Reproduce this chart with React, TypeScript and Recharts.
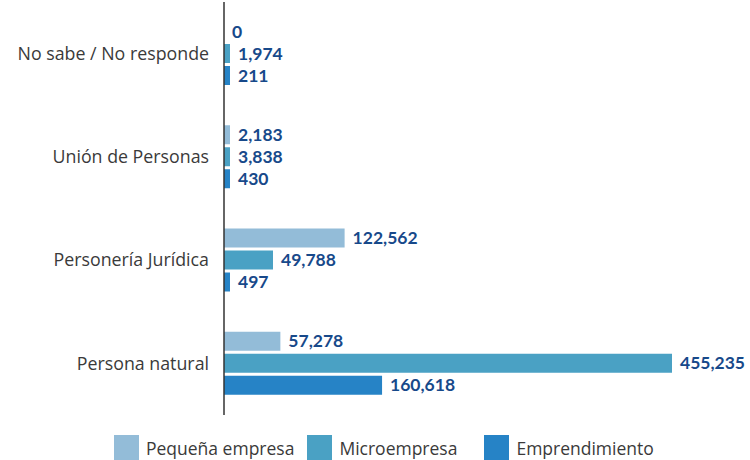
import React from 'react';
import { BarChart, Bar, XAxis, YAxis, LabelList } from 'recharts';

const categories = ['No sabe / No responde', 'Unión de Personas', 'Personería Jurídica', 'Persona natural'];
const pequena = [0, 2183, 122562, 57278];
const micro = [1974, 3838, 49788, 455235];
const emprendimiento = [211, 430, 497, 160618];

const series = [
  { key: 'pequena', name: 'Pequeña empresa', color: '#93bcd8' },
  { key: 'micro', name: 'Microempresa', color: '#4aa1c4' },
  { key: 'emprendimiento', name: 'Emprendimiento', color: '#2683c6' },
];

const data = categories.map((name, i) => ({
  name,
  pequena: pequena[i],
  micro: micro[i],
  emprendimiento: emprendimiento[i],
}));

const TEXT_FONT = '"Open Sans", sans-serif';
const NUM_FONT = 'Lato, "Open Sans", sans-serif';
const fmt = (v: number) => v.toLocaleString('en-US');

// tiny bars get a visible stub like in the original; zero keeps a hairline so its label still shows
const minSize = (v: any) => (Number(v) === 0 ? 0.01 : 6);

export default function App() {
  return (
    <div style={{ position: 'absolute', left: 0, top: 0, width: 750, height: 460, background: '#fff' }}>
      <BarChart
        width={750}
        height={460}
        data={data}
        layout="vertical"
        margin={{ top: 2, right: 78, bottom: 45, left: 0 }}
        barSize={19}
        barGap={3}
      >
        <XAxis type="number" hide domain={[0, 455235]} />
        <YAxis
          type="category"
          dataKey="name"
          width={224}
          tickSize={0}
          tickMargin={15}
          axisLine={{ stroke: '#333', strokeWidth: 1.5 }}
          tick={{ fill: '#3a3a3a', fontSize: 17.8, fontFamily: TEXT_FONT }}
        />
        {series.map((s) => (
          <Bar
            key={s.key}
            dataKey={s.key}
            name={s.name}
            fill={s.color}
            minPointSize={minSize}
            isAnimationActive={false}
          >
            <LabelList
              dataKey={s.key}
              position="right"
              offset={8}
              formatter={(v: any) => fmt(Number(v))}
              style={{ fill: '#17498a', fontSize: 17.5, fontWeight: 700, fontFamily: NUM_FONT }}
            />
          </Bar>
        ))}
      </BarChart>
      <div
        style={{
          position: 'absolute',
          top: 435,
          left: 114,
          display: 'flex',
          alignItems: 'center',
          fontSize: 17.5,
          color: '#3a3a3a',
          fontFamily: TEXT_FONT,
        }}
      >
        {series.map((s, i) => (
          <div key={s.key} style={{ display: 'flex', alignItems: 'center', marginRight: i === 0 ? 13 : 27 }}>
            <span style={{ display: 'inline-block', width: 25, height: 25, background: s.color, marginRight: 7 }} />
            <span>{s.name}</span>
          </div>
        ))}
      </div>
    </div>
  );
}
